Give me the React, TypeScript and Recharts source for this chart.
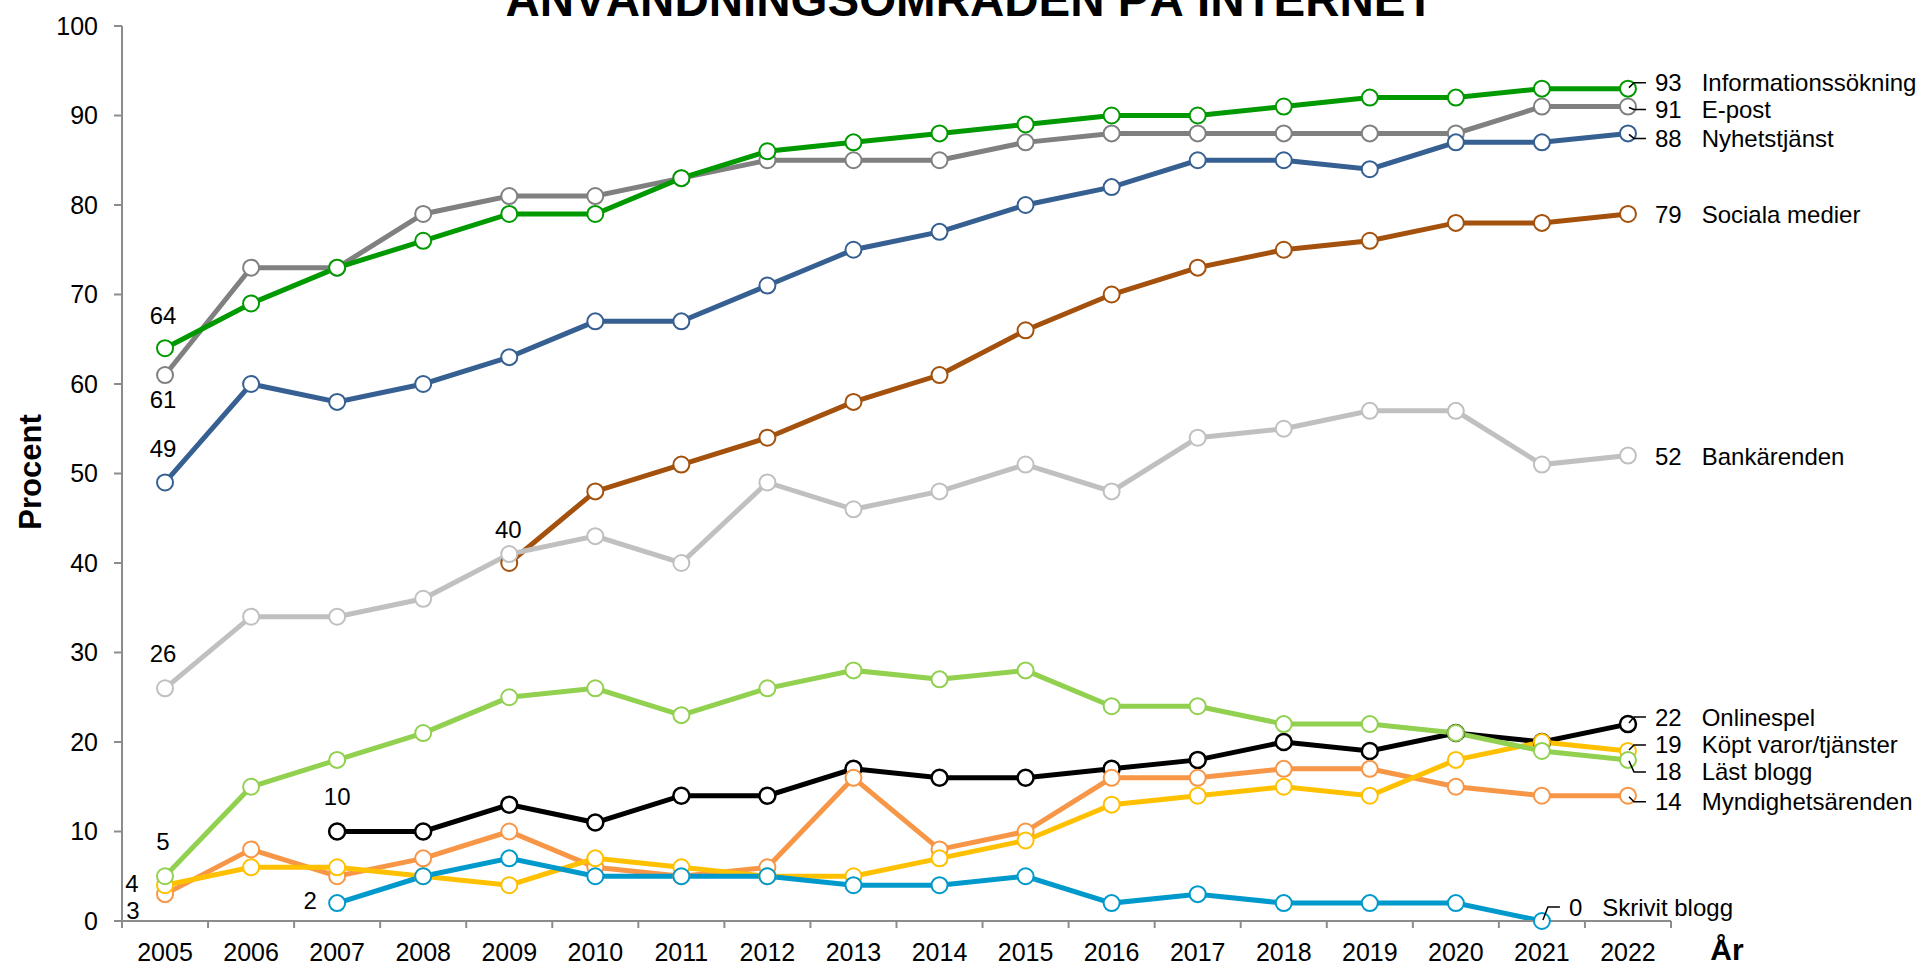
import React from 'react';
import { LineChart, Line, XAxis, YAxis } from 'recharts';

const years = [2005, 2006, 2007, 2008, 2009, 2010, 2011, 2012, 2013, 2014, 2015, 2016, 2017, 2018, 2019, 2020, 2021, 2022];
const yTicks = [0, 10, 20, 30, 40, 50, 60, 70, 80, 90, 100];

const informationssokning = [64, 69, 73, 76, 79, 79, 83, 86, 87, 88, 89, 90, 90, 91, 92, 92, 93, 93];
const epost = [61, 73, 73, 79, 81, 81, 83, 85, 85, 85, 87, 88, 88, 88, 88, 88, 91, 91];
const nyhetstjanst = [49, 60, 58, 60, 63, 67, 67, 71, 75, 77, 80, 82, 85, 85, 84, 87, 87, 88];
const socialaMedier = [null, null, null, null, 40, 48, 51, 54, 58, 61, 66, 70, 73, 75, 76, 78, 78, 79];
const bankarenden = [26, 34, 34, 36, 41, 43, 40, 49, 46, 48, 51, 48, 54, 55, 57, 57, 51, 52];
const onlinespel = [null, null, 10, 10, 13, 11, 14, 14, 17, 16, 16, 17, 18, 20, 19, 21, 20, 22];
const myndighetsarenden = [3, 8, 5, 7, 10, 6, 5, 6, 16, 8, 10, 16, 16, 17, 17, 15, 14, 14];
const koptVaror = [4, 6, 6, 5, 4, 7, 6, 5, 5, 7, 9, 13, 14, 15, 14, 18, 20, 19];
const lastBlogg = [5, 15, 18, 21, 25, 26, 23, 26, 28, 27, 28, 24, 24, 22, 22, 21, 19, 18];
const skrivitBlogg = [null, null, 2, 5, 7, 5, 5, 5, 4, 4, 5, 2, 3, 2, 2, 2, 0, null];

const seriesNames = ['Sociala medier', 'Bankärenden', 'E-post', 'Nyhetstjänst', 'Informationssökning', 'Onlinespel', 'Myndighetsärenden', 'Köpt varor/tjänster', 'Läst blogg', 'Skrivit blogg'];
const seriesValues = [socialaMedier, bankarenden, epost, nyhetstjanst, informationssokning, onlinespel, myndighetsarenden, koptVaror, lastBlogg, skrivitBlogg];
const seriesColors = ['#A3510C', '#C0C0C0', '#808080', '#376092', '#009900', '#000000', '#F79646', '#FFC000', '#92D050', '#0099CC'];

const data = years.map((year, i) => {
  const row: Record<string, number | null> = { year };
  seriesNames.forEach((name, s) => {
    row[name] = seriesValues[s][i];
  });
  return row;
});

const FONT = '"Liberation Sans", Arial, sans-serif';
const AXIS_COLOR = '#8c8c8c';

// label placement styling (pixel offsets relative to the point)
const startLabelStyle: Record<string, { dx: number; dy: number }> = {
  'Sociala medier': { dx: -1, dy: -34 },
  'Bankärenden': { dx: -2, dy: -35 },
  'E-post': { dx: -2, dy: 24 },
  'Nyhetstjänst': { dx: -2, dy: -34 },
  'Informationssökning': { dx: -2, dy: -33 },
  'Onlinespel': { dx: 0, dy: -35 },
  'Myndighetsärenden': { dx: -32, dy: 16 },
  'Köpt varor/tjänster': { dx: -33, dy: -2 },
  'Läst blogg': { dx: -2, dy: -35 },
  'Skrivit blogg': { dx: -27, dy: -3 },
};
const endLabelStyle: Record<string, { dy: number; leader: boolean; gap: number }> = {
  'Sociala medier': { dy: 1, leader: false, gap: 20 },
  'Bankärenden': { dy: 1, leader: false, gap: 20 },
  'E-post': { dy: 3, leader: true, gap: 20 },
  'Nyhetstjänst': { dy: 5, leader: true, gap: 20 },
  'Informationssökning': { dy: -6, leader: true, gap: 20 },
  'Onlinespel': { dy: -7, leader: true, gap: 20 },
  'Myndighetsärenden': { dy: 6, leader: true, gap: 20 },
  'Köpt varor/tjänster': { dy: -6, leader: true, gap: 20 },
  'Läst blogg': { dy: 12, leader: true, gap: 20 },
  'Skrivit blogg': { dy: -14, leader: true, gap: 20 },
};

const firstIndex = (arr: (number | null)[]) => arr.findIndex((v) => v !== null);
const lastIndex = (arr: (number | null)[]) => {
  for (let i = arr.length - 1; i >= 0; i--) if (arr[i] !== null) return i;
  return -1;
};

const makeLabel = (name: string, values: (number | null)[]) => (props: any) => {
  const { x, y, index, value } = props;
  if (x == null || y == null || value == null) return <g />;
  const fi = firstIndex(values);
  const li = lastIndex(values);
  const fs = 24;
  if (index === fi) {
    const st = startLabelStyle[name];
    return (
      <text x={x + st.dx} y={y + st.dy + fs * 0.355} textAnchor="middle" fontSize={fs} fontFamily={FONT} fill="#000">
        {value}
      </text>
    );
  }
  if (index === li) {
    const st = endLabelStyle[name];
    const ly = y + st.dy;
    return (
      <g>
        {st.leader && (
          <polyline
            points={`${x + 1},${y + (st.dy > 0 ? 1 : -1)} ${x + 6},${ly} ${x + 18},${ly}`}
            fill="none"
            stroke="#000"
            strokeWidth={1.5}
          />
        )}
        <text x={x + 27} y={ly + fs * 0.355} fontSize={fs} fontFamily={FONT} fill="#000">
          <tspan>{value}</tspan>
          <tspan dx={st.gap}>{name}</tspan>
        </text>
      </g>
    );
  }
  return <g />;
};

const XTick = (props: any) => {
  const { x, y, payload } = props;
  const v = payload.value;
  if (Number.isInteger(v)) {
    return (
      <text x={x} y={y} dy="0.71em" textAnchor="middle" fontSize={25} fontFamily={FONT} fill="#000">
        {v}
      </text>
    );
  }
  return <line x1={x} x2={x} y1={y - 22} y2={y - 15} stroke={AXIS_COLOR} strokeWidth={2} />;
};

const xTicks: number[] = [];
years.forEach((yr) => {
  xTicks.push(yr - 0.5);
  xTicks.push(yr);
});
xTicks.push(years[years.length - 1] + 0.5);

export default function App() {
  return (
    <div style={{ position: 'absolute', left: 0, top: 0, width: 1921, height: 963, background: '#fff', fontFamily: FONT }}>
      <LineChart width={1921} height={963} data={data} margin={{ top: 26, right: 250, bottom: 0, left: 0 }}>
        <XAxis
          dataKey="year"
          type="number"
          domain={[years[0] - 0.5, years[years.length - 1] + 0.5]}
          ticks={xTicks}
          interval={0}
          tick={<XTick />}
          tickLine={false}
          tickSize={7}
          tickMargin={15}
          height={42}
          axisLine={{ stroke: AXIS_COLOR, strokeWidth: 2 }}
        />
        <YAxis
          type="number"
          domain={[0, 100]}
          ticks={yTicks}
          interval={0}
          width={122}
          tickSize={8}
          tickMargin={16}
          tick={{ fontSize: 25, fill: '#000', fontFamily: FONT }}
          tickLine={{ stroke: AXIS_COLOR, strokeWidth: 2 }}
          axisLine={{ stroke: AXIS_COLOR, strokeWidth: 2 }}
        />
        {seriesNames.map((name, s) => (
          <Line
            key={name}
            type="linear"
            dataKey={name}
            stroke={seriesColors[s]}
            strokeWidth={5}
            dot={{ r: 8, fill: '#fff', stroke: seriesColors[s], strokeWidth: name === 'Onlinespel' ? 2.5 : 2 }}
            activeDot={false}
            isAnimationActive={false}
            label={makeLabel(name, seriesValues[s])}
          />
        ))}
      </LineChart>
      <svg width={1921} height={963} style={{ position: 'absolute', left: 0, top: 0, pointerEvents: 'none' }}>
        <text x={970} y={16} textAnchor="middle" fontSize={47.5} fontWeight="bold" fontFamily={FONT} fill="#000">
          ANVÄNDNINGSOMRÅDEN PÅ INTERNET
        </text>
        <text x={41} y={472} textAnchor="middle" fontSize={31} fontWeight="bold" fontFamily={FONT} fill="#000" transform="rotate(-90, 41, 472)">
          Procent
        </text>
        <text x={1727} y={960} textAnchor="middle" fontSize={30} fontWeight="bold" fontFamily={FONT} fill="#000">
          År
        </text>
      </svg>
    </div>
  );
}
